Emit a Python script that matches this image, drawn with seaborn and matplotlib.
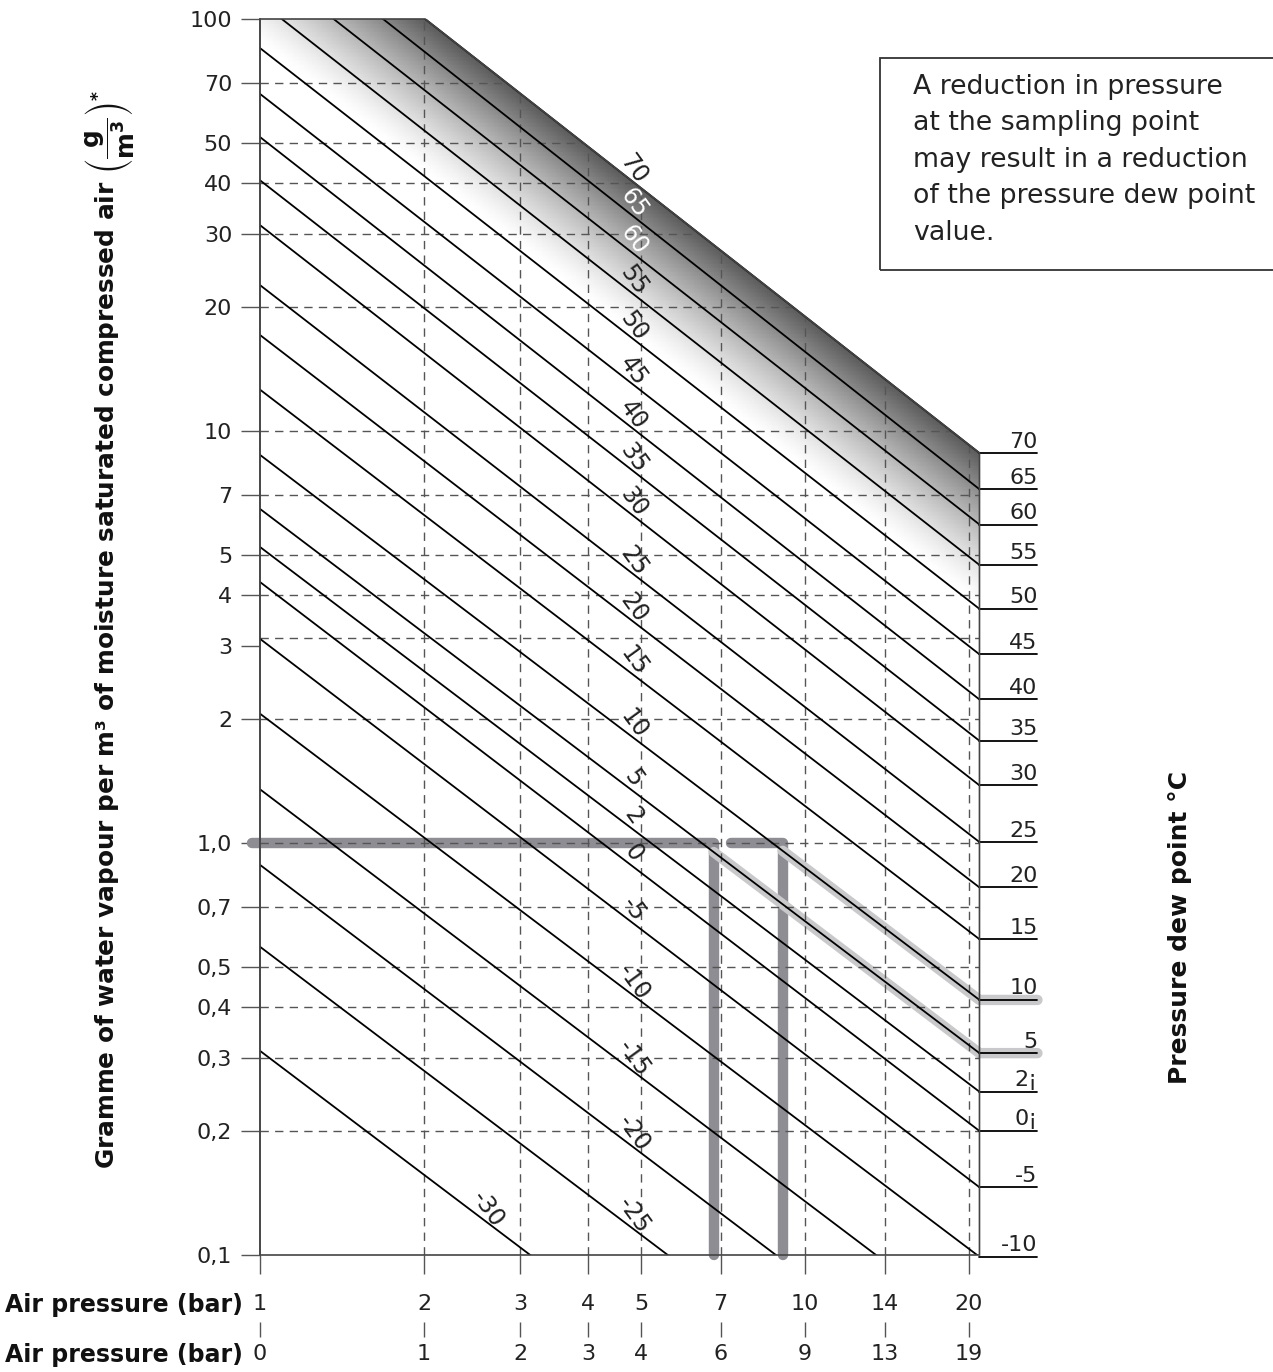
import numpy as np
import pandas as pd
import matplotlib
matplotlib.use("Agg")
import matplotlib.pyplot as plt
import matplotlib.ticker as mticker
from matplotlib.patches import Polygon, Rectangle
import seaborn as sns

# ---------------- data ----------------
dew_points = [70, 65, 60, 55, 50, 45, 40, 35, 30, 25, 20, 15, 10, 5, 2, 0,
              -5, -10, -15, -20, -25, -30]
# g water vapour per m3 read where each line meets p = 1 bar (abs)
water_at_1bar = [206, 172, 138, 110, 85.0, 65.8, 51.7, 40.6, 31.6, 22.6, 17.1,
                 12.6, 8.75, 6.47, 5.23, 4.30, 3.13, 2.06, 1.35, 0.885, 0.56, 0.313]
# g water vapour per m3 read where each line meets the right edge (p = 20.9 bar)
water_at_pmax = [8.84, 7.22, 5.93, 4.73, 3.70, 2.87, 2.23, 1.77, 1.38, 1.005,
                 0.78, 0.584, 0.416, 0.309, 0.249, 0.200, 0.146, 0.099, 0.0646,
                 0.0423, 0.0268, 0.0150]
right_labels = ["70", "65", "60", "55", "50", "45", "40", "35", "30", "25",
                "20", "15", "10", "5", "2¡", "0¡", "-5", "-10"]

x_ticks_abs = [1, 2, 3, 4, 5, 7, 10, 14, 20]
x_labels_abs = ["1", "2", "3", "4", "5", "7", "10", "14", "20"]
x_labels_gauge = ["0", "1", "2", "3", "4", "6", "9", "13", "19"]
y_ticks = [0.1, 0.2, 0.3, 0.4, 0.5, 0.7, 1, 2, 3, 4, 5, 7, 10, 20, 30, 40, 50, 70, 100]
y_labels = ["0,1", "0,2", "0,3", "0,4", "0,5", "0,7", "1,0", "2", "3", "4", "5",
            "7", "10", "20", "30", "40", "50", "70", "100"]
x_grid = [2, 3, 4, 5, 7, 10, 14, 20]
y_grid = [0.2, 0.3, 0.4, 0.5, 0.7, 1, 2, 3.15, 4, 5, 7, 10, 20, 30, 40, 50, 70]

p_max = 20.9          # right boundary of the chart (bar abs)
p_stub = 26.7         # end of the right-hand label stubs
y_min, y_max = 0.1, 100

example_content = 1.0             # g/m3
example_pressures = [6.8, 9.1]    # bar abs
example_starts = [0.967, 7.3]
example_dew = [5, 10]

box_text = ("A reduction in pressure\nat the sampling point\n"
            "may result in a reduction\nof the pressure dew point\nvalue.")


def line_value(i, p):
    """Value of dew-point line i at pressure p (straight line on log-log axes)."""
    lp = np.log10(p) / np.log10(p_max)
    return 10 ** ((1 - lp) * np.log10(water_at_1bar[i]) + lp * np.log10(water_at_pmax[i]))


# ---------------- figure ----------------
sns.set_theme(style="white")
plt.rcParams["font.family"] = ["DejaVu Sans"]
plt.rcParams["mathtext.fontset"] = "dejavusans"

W, H = 1273, 1372
fig = plt.figure(figsize=(W / 100, H / 100), dpi=100)
ax_w = 545 * np.log10(28) / W
ax = fig.add_axes([260 / W, (H - 1255) / H, ax_w, 1236 / H])
ax.set_xscale("log")
ax.set_yscale("log")
ax.set_xlim(1, 28)
ax.set_ylim(y_min, y_max)

# chart region: below the 70 °C line
s70 = np.log10(water_at_1bar[0] / water_at_pmax[0]) / np.log10(p_max)
p_top = 10 ** (np.log10(water_at_1bar[0] / y_max) / s70)
poly = Polygon([(1, y_min), (1, y_max), (p_top, y_max),
                (p_max, water_at_pmax[0]), (p_max, y_min)], closed=True,
               transform=ax.transData, facecolor="none", edgecolor="#444444",
               lw=1.2, zorder=3.5, clip_on=False)
ax.add_patch(poly)

# gradient shading near the hottest lines
pp = np.logspace(0, np.log10(p_max), 300)
gg = np.logspace(-1, 2, 300)
P, G = np.meshgrid(pp, gg)
field = P ** s70 * G
t = np.clip(np.log(field / 88.0) / np.log(water_at_1bar[0] / 88.0), 0, 1)
shade = 1 - 0.64 * t ** 1.3
mesh = ax.pcolormesh(P, G, shade, cmap="gray", vmin=0, vmax=1,
                     shading="gouraud", zorder=0, rasterized=True)
mesh.set_clip_path(poly)

# example highlight paths
dark = "#8d8d93"
light = "#c9c9cb"
for p0, pe in zip(example_starts, example_pressures):
    ax.plot([p0, pe, pe], [example_content, example_content, y_min],
            color=dark, lw=7.5, solid_capstyle="round", solid_joinstyle="round",
            zorder=1, clip_on=False)
for pe, T in zip(example_pressures, example_dew):
    i = dew_points.index(T)
    ye = water_at_pmax[i]
    ax.plot([pe, p_max, p_stub], [line_value(i, pe), ye, ye], color=light,
            lw=7.5, solid_capstyle="round", solid_joinstyle="round",
            zorder=1, clip_on=False)

# dashed grid, clipped to chart region
dash = (0, (6, 4.5))
for gx in x_grid:
    ln = ax.axvline(gx, color="#555555", lw=1.0, ls=dash, zorder=2)
    ln.set_clip_path(poly)
for gy in y_grid:
    ln = ax.axhline(gy, color="#555555", lw=1.0, ls=dash, zorder=2)
    ln.set_clip_path(poly)

# dew-point lines
rows = []
for T, w1, w2 in zip(dew_points, water_at_1bar, water_at_pmax):
    rows.append({"T": T, "p": 1.0, "g": w1})
    rows.append({"T": T, "p": p_max, "g": w2})
df = pd.DataFrame(rows)
sns.lineplot(data=df, x="p", y="g", units="T", estimator=None, sort=False,
             color="black", lw=1.3, ax=ax, legend=False, zorder=3)

# right-hand stubs and labels
for ye, lab in zip(water_at_pmax, right_labels):
    ax.plot([p_max, p_stub], [ye, ye], color="black", lw=1.3, zorder=3,
            clip_on=False)
    ax.annotate(lab, xy=(p_stub, ye), xytext=(0, 4), textcoords="offset points",
                ha="right", va="baseline", fontsize=16, color="#222222",
                annotation_clip=False)

# labels along the lines
for i, T in enumerate(dew_points):
    pl = 2.62 if T == -30 else 4.85
    col = "white" if T in (65, 60) else "#222222"
    ax.text(pl, line_value(i, pl) * 1.08, str(T), rotation=-54, ha="center",
            va="center", rotation_mode="anchor", fontsize=17, color=col, zorder=4)

# axes styling
for s in ("top", "right", "bottom"):
    ax.spines[s].set_visible(False)
ax.spines["left"].set_color("#555555")
ax.spines["left"].set_linewidth(1.2)
ax.set_yticks(y_ticks)
ax.set_yticklabels(y_labels)
ax.set_xticks(x_ticks_abs)
ax.set_xticklabels(x_labels_abs)
ax.xaxis.set_minor_locator(mticker.NullLocator())
ax.yaxis.set_minor_locator(mticker.NullLocator())
ax.tick_params(axis="y", direction="out", length=14, width=1.0, color="#555555",
               pad=6, labelsize=16, labelcolor="#222222", left=True)
ax.tick_params(axis="x", direction="out", length=14, width=1.0, color="#555555",
               pad=14, labelsize=16, labelcolor="#222222", bottom=True)
ax.set_xlabel("")
ax.set_ylabel("")
ax.grid(False)

# second row: gauge pressure
ax2 = ax.twiny()
ax2.set_xscale("log")
ax2.set_xlim(ax.get_xlim())
ax2.set_xticks(x_ticks_abs)
ax2.set_xticklabels(x_labels_gauge)
ax2.xaxis.set_minor_locator(mticker.NullLocator())
ax2.xaxis.set_ticks_position("bottom")
ax2.spines["bottom"].set_position(("outward", 48))
for s in ax2.spines.values():
    s.set_visible(False)
ax2.tick_params(axis="x", direction="out", length=11, width=1.0, color="#555555",
                pad=5, labelsize=16, labelcolor="#222222", bottom=True, top=False,
                labelbottom=True, labeltop=False)
ax2.grid(False)

# texts
fig.text(5 / W, 1 - 1305 / H, "Air pressure (bar)", fontweight="bold", fontsize=17,
         ha="left", va="center", color="#111111")
fig.text(5 / W, 1 - 1355 / H, "Air pressure (bar)", fontweight="bold", fontsize=17,
         ha="left", va="center", color="#111111")
fig.text(110 / W, 1 - 630 / H,
         r"Gramme of water vapour per m³ of moisture saturated compressed air "
         r"$\left(\dfrac{\mathbf{g}}{\mathbf{m^3}}\right)^{\mathbf{*}}$",
         rotation=90, fontweight="bold", fontsize=17.8, ha="center", va="center",
         color="#111111")
fig.text(1180 / W, 1 - 927 / H, "Pressure dew point °C", rotation=90,
         fontweight="bold", fontsize=18, ha="center", va="center", color="#111111")

fig.add_artist(Rectangle((880 / W, 1 - 270 / H), 420 / W, 212 / H,
                         transform=fig.transFigure, fill=False,
                         edgecolor="#333333", lw=1.3))
fig.text(913 / W, 1 - 74 / H, box_text, ha="left", va="top", fontsize=19.3,
         linespacing=1.52, color="#222222")

fig.savefig("out.png", dpi=100)
